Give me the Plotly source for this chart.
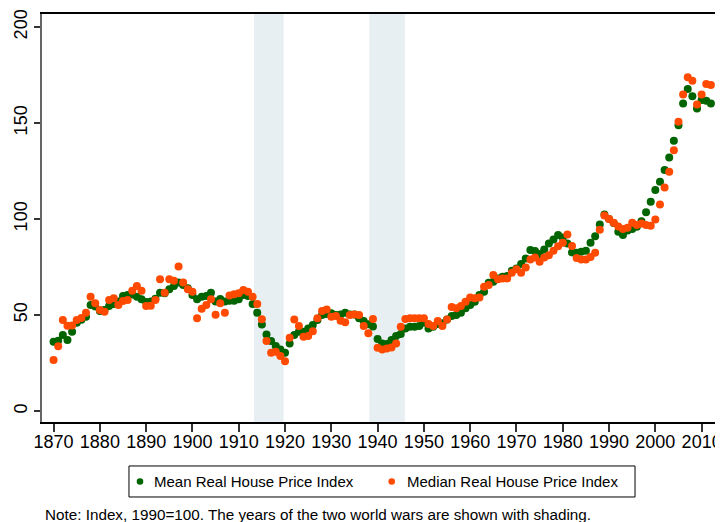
import plotly.graph_objects as go

years = list(range(1870, 2013))

mean_index = [
    36.1, 36.6, 39.6, 37.0, 41.3, 46.0, 47.5, 49.1, 55.2, 54.5,   # 1870s
    52.1, 52.6, 54.7, 55.7, 57.0, 59.9, 60.4, 60.7, 59.5, 58.2,   # 1880s
    56.8, 57.0, 58.5, 61.6, 61.3, 63.4, 65.1, 67.0, 65.6, 63.9,   # 1890s
    60.4, 58.2, 59.5, 59.9, 61.6, 57.0, 58.3, 57.0, 57.5, 57.5,   # 1900s
    58.2, 60.4, 59.9, 55.7, 51.2, 45.1, 39.9, 36.5, 33.9, 32.1,   # 1910s
    30.4, 35.2, 39.6, 41.3, 41.3, 43.0, 44.8, 47.4, 50.0, 50.5,   # 1920s
    50.9, 50.0, 50.3, 51.2, 50.3, 50.3, 48.3, 46.9, 45.2, 44.0,   # 1930s
    37.5, 35.2, 34.9, 37.0, 39.1, 40.1, 43.0, 43.9, 43.9, 44.3,   # 1940s
    46.0, 43.0, 43.9, 45.3, 45.7, 47.7, 49.5, 50.0, 51.2, 53.5,   # 1950s
    55.2, 56.9, 60.4, 62.2, 66.8, 67.4, 69.1, 70.0, 70.3, 73.1,   # 1960s
    74.3, 76.6, 79.5, 83.9, 83.3, 81.8, 84.2, 87.3, 89.4, 91.7,   # 1970s
    90.4, 87.3, 82.6, 82.5, 83.0, 83.5, 87.7, 91.1, 97.2, 102.4,  # 1980s
    100.0, 98.0, 93.4, 91.7, 94.0, 94.8, 96.0, 98.9, 103.5, 109.0,  # 1990s
    115.1, 119.4, 125.5, 132.1, 140.8, 148.9, 160.2, 167.7, 164.0, 157.6,  # 2000s
    162.0, 161.6, 160.2,  # 2010-2012
]

median_index = [
    26.6, 33.7, 47.4, 44.4, 44.6, 47.4, 48.5, 51.2, 59.5, 56.1,   # 1870s
    52.6, 51.7, 57.8, 58.7, 55.2, 57.3, 57.8, 62.7, 65.1, 62.7,   # 1880s
    54.7, 54.9, 57.8, 68.7, 61.6, 68.7, 67.9, 75.3, 67.0, 63.5,   # 1890s
    62.2, 48.4, 53.3, 55.2, 58.2, 50.2, 56.1, 51.2, 60.2, 60.8,   # 1900s
    61.3, 63.0, 62.2, 59.5, 55.7, 47.8, 36.5, 30.4, 30.9, 28.7,   # 1910s
    26.0, 38.2, 47.7, 44.3, 38.7, 39.1, 41.6, 48.3, 52.1, 52.9,   # 1920s
    49.1, 49.5, 47.0, 46.2, 50.0, 50.3, 50.0, 44.3, 40.5, 47.9,   # 1930s
    33.0, 32.1, 32.6, 33.1, 35.2, 43.9, 47.9, 48.3, 48.3, 48.3,   # 1940s
    48.3, 45.3, 44.3, 46.9, 44.3, 47.7, 54.2, 53.6, 54.7, 56.9,   # 1950s
    59.2, 58.7, 59.2, 64.7, 65.6, 70.8, 68.6, 69.1, 69.1, 72.0,   # 1960s
    73.8, 72.0, 74.8, 79.0, 80.0, 77.8, 80.0, 81.2, 83.5, 85.9,   # 1970s
    87.7, 92.0, 86.0, 79.7, 79.0, 79.0, 80.2, 82.5, 94.4, 101.8,  # 1980s
    100.0, 98.1, 96.1, 94.8, 95.5, 98.1, 96.9, 97.7, 96.9, 96.5,  # 1990s
    99.8, 107.6, 116.5, 124.6, 135.9, 150.7, 164.9, 173.8, 172.0, 159.7,  # 2000s
    164.9, 170.3, 169.8,  # 2010-2012
]

series_names = ["Mean Real House Price Index", "Median Real House Price Index"]
war_periods = [(1913.3, 1919.7), (1938.2, 1945.9)]
x_ticks = list(range(1870, 2011, 10))
y_ticks = [0, 50, 100, 150, 200]
note_text = "Note: Index, 1990=100. The years of the two world wars are shown with shading."

FONT = "Liberation Sans, Arial, sans-serif"
GREEN = "#006400"
ORANGE = "#ff4a00"
colors = [GREEN, ORANGE]

fig = go.Figure()
for name, vals, col in zip(series_names, [mean_index, median_index], colors):
    fig.add_trace(go.Scatter(
        x=years, y=vals, mode="markers", name=name,
        marker=dict(color=col, size=8, line=dict(width=0)),
    ))

for a, b in war_periods:
    fig.add_shape(type="rect", xref="x", yref="paper", x0=a, x1=b, y0=0, y1=1,
                  fillcolor="#e8eff2", line=dict(width=0), layer="below")

# right frame line
fig.add_shape(type="line", xref="paper", yref="paper", x0=1, x1=1, y0=0, y1=1,
              line=dict(color="black", width=2), layer="above")

# legend drawn as a boxed key below the plot (paper coordinates)
fig.add_shape(type="rect", xref="paper", yref="paper", x0=0.1279, x1=0.8721,
              y0=-0.1838, y1=-0.1078, line=dict(color="black", width=1),
              fillcolor="white", layer="above")
legend_marker_x = [0.1441, 0.5143]
legend_text_x = [0.1618, 0.5338]
legend_y = -0.1458
annotations = []
for name, col, mx, tx in zip(series_names, colors, legend_marker_x, legend_text_x):
    fig.add_shape(type="circle", xref="paper", yref="paper",
                  xsizemode="pixel", ysizemode="pixel",
                  xanchor=mx, yanchor=legend_y, x0=-3.3, x1=3.3, y0=-3.3, y1=3.3,
                  fillcolor=col, line=dict(width=0), layer="above")
    annotations.append(dict(
        text=name, xref="paper", yref="paper", x=tx, y=legend_y,
        xanchor="left", yanchor="middle", showarrow=False,
        font=dict(size=15, family=FONT, color="black"),
    ))
annotations.append(dict(
    text=note_text, xref="paper", yref="paper", x=0.0015, y=-0.2255,
    xanchor="left", yanchor="middle", showarrow=False,
    font=dict(size=15.25, family=FONT, color="black"),
))

# the page body has an 8px margin, so the figure is 8px smaller than the window
fig.update_layout(
    width=715, height=514,
    margin=dict(l=34, r=1, t=6, b=100),
    plot_bgcolor="white", paper_bgcolor="white",
    font=dict(family=FONT, color="black"),
    showlegend=False,
    annotations=annotations,
)

fig.update_xaxes(
    range=[1867.5, 2014.4], tickvals=x_ticks, ticktext=[str(t) for t in x_ticks],
    showgrid=False, zeroline=False, showline=True, linecolor="black", linewidth=2,
    mirror=True, ticks="outside", ticklen=8, tickwidth=1.5, tickcolor="#333",
    tickfont=dict(size=18, family=FONT), ticklabelstandoff=-6,
)
fig.update_yaxes(
    range=[-5.7, 206.8], tickvals=y_ticks, ticktext=[str(t) for t in y_ticks],
    showgrid=False, zeroline=False, showline=True, linecolor="#666", linewidth=2,
    ticks="outside", ticklen=6, tickwidth=1.5, tickcolor="#333", tickangle=-90,
    tickfont=dict(size=18, family=FONT),
)

fig.write_html("out.html")
